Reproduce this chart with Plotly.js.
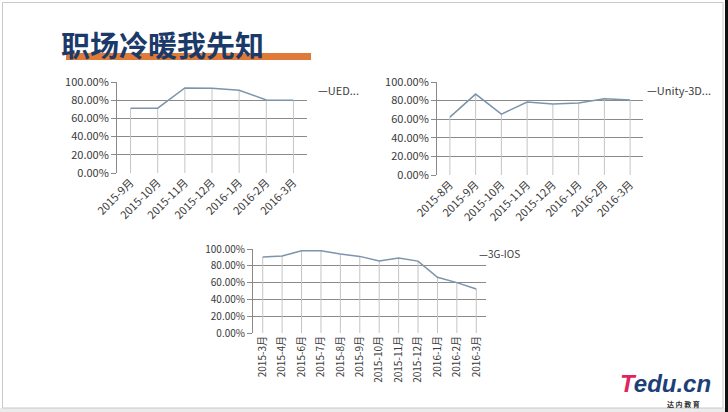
<!DOCTYPE html>
<html>
<head>
<meta charset="utf-8">
<script src="https://cdn.plot.ly/plotly-3.0.1.min.js"></script>
<style>html,body{margin:0;padding:0;background:#fff;}#chart{width:728px;height:412px;}</style>
</head>
<body>
<div id="chart"></div>
<script>
const pageTitle = "职场冷暖我先知";

const uedMonths = ["2015-9月","2015-10月","2015-11月","2015-12月","2016-1月","2016-2月","2016-3月"];
const uedValues = [0.712, 0.712, 0.934, 0.932, 0.910, 0.803, 0.800];
const uedName = "UED...";

const unityMonths = ["2015-8月","2015-9月","2015-10月","2015-11月","2015-12月","2016-1月","2016-2月","2016-3月"];
const unityValues = [0.622, 0.870, 0.655, 0.784, 0.763, 0.773, 0.820, 0.806];
const unityName = "Unity-3D...";

const iosMonths = ["2015-3月","2015-4月","2015-6月","2015-7月","2015-8月","2015-9月","2015-10月","2015-11月","2015-12月","2016-1月","2016-2月","2016-3月"];
const iosValues = [0.904, 0.916, 0.980, 0.980, 0.940, 0.912, 0.856, 0.892, 0.856, 0.664, 0.600, 0.524];
const iosName = "3G-IOS";

const W = 728, H = 412;
const px = v => v / W;
const py = v => 1 - v / H;

const lineColor = "#7d94ab";
const dropColor = "#c4c4c4";
const gridColor = "#8a8a8a";
const textColor = "#3a3a3a";
const fontFam = "'Noto Sans CJK SC', 'Noto Sans', sans-serif";

function series(x, y, xa, ya) {
  return {
    x: x, y: y, xaxis: xa, yaxis: ya, type: "scatter", mode: "lines",
    line: {color: lineColor, width: 1.5},
    error_y: {type: "data", symmetric: false, array: y.map(() => 0), arrayminus: y, color: dropColor, thickness: 1, width: 0},
    hoverinfo: "skip", showlegend: false
  };
}

const data = [
  series(uedMonths, uedValues, "x", "y"),
  series(unityMonths, unityValues, "x2", "y2"),
  series(iosMonths, iosValues, "x3", "y3")
];

function xAxis(dom, n, anchor, angle, size) {
  return {
    domain: dom, anchor: anchor, type: "category", range: [-0.5, n - 0.5],
    showgrid: false, zeroline: false, showline: false, ticks: "",
    tickangle: angle, tickfont: {family: fontFam, size: size, color: textColor},
    fixedrange: true
  };
}
function yAxis(dom, anchor, size) {
  return {
    domain: dom, anchor: anchor, range: [0, 1], dtick: 0.2, tick0: 0, tickformat: ".2%",
    showgrid: true, gridcolor: gridColor, gridwidth: 1, zeroline: false,
    showline: true, linecolor: gridColor, linewidth: 1,
    ticks: "outside", ticklen: 5, tickcolor: gridColor,
    tickfont: {family: fontFam, size: size, color: textColor}, fixedrange: true
  };
}

const layout = {
  width: W, height: H,
  margin: {l: 0, r: 0, t: 0, b: 0},
  paper_bgcolor: "#ffffff", plot_bgcolor: "rgba(0,0,0,0)",
  showlegend: false,
  xaxis: xAxis([px(117), px(307)], uedMonths.length, "y", -45, 11),
  yaxis: yAxis([py(173), py(82)], "x", 11),
  xaxis2: xAxis([px(437), px(643)], unityMonths.length, "y2", -45, 11),
  yaxis2: yAxis([py(175), py(82)], "x2", 11),
  xaxis3: xAxis([px(253), px(486)], iosMonths.length, "y3", -90, 10),
  yaxis3: yAxis([py(333), py(249)], "x3", 10),
  shapes: [
    {type: "rect", xref: "paper", yref: "paper", x0: px(725), x1: 1, y0: 0, y1: 1, fillcolor: "#111", line: {width: 0}, layer: "below"},
    {type: "rect", xref: "paper", yref: "paper", x0: 0, x1: px(725), y0: 0, y1: py(408), fillcolor: "#ebebeb", line: {width: 0}, layer: "below"},
    {type: "rect", xref: "paper", yref: "paper", x0: px(2.5), x1: px(723), y0: py(408), y1: py(2.5), line: {color: "#c8c8c8", width: 1}, layer: "below"},
    {type: "rect", xref: "paper", yref: "paper", x0: px(66), x1: px(311), y0: py(60), y1: py(53), fillcolor: "#e07a38", line: {width: 0}, layer: "below"}
  ],
  annotations: [
    {text: "<b>" + pageTitle + "</b>", xref: "paper", yref: "paper", x: px(59), y: py(44), xanchor: "left", yanchor: "middle", showarrow: false,
     font: {family: "'Noto Sans CJK SC', sans-serif", size: 29, color: "#1b3a6a"}},
    {text: "—" + uedName, xref: "paper", yref: "paper", x: px(316), y: py(90), xanchor: "left", yanchor: "middle", showarrow: false,
     font: {family: fontFam, size: 11, color: textColor}},
    {text: "—" + unityName, xref: "paper", yref: "paper", x: px(645), y: py(90), xanchor: "left", yanchor: "middle", showarrow: false,
     font: {family: fontFam, size: 11, color: textColor}},
    {text: "—" + iosName, xref: "paper", yref: "paper", x: px(477), y: py(254), xanchor: "left", yanchor: "middle", showarrow: false,
     font: {family: fontFam, size: 10, color: textColor}},
    {text: "<b><i><span style='color:#e3235e'>T</span>edu.cn</i></b>", xref: "paper", yref: "paper", x: px(713), y: py(383), xanchor: "right", yanchor: "middle", showarrow: false,
     font: {family: "'Liberation Sans', sans-serif", size: 24, color: "#1d3f78"}},
    {text: "<b>达 内 教 育</b>", xref: "paper", yref: "paper", x: px(702), y: py(404), xanchor: "right", yanchor: "middle", showarrow: false,
     font: {family: "'Noto Sans CJK SC', sans-serif", size: 7, color: "#333"}}
  ]
};

Plotly.newPlot("chart", data, layout, {staticPlot: true, displayModeBar: false});
</script>
</body>
</html>
